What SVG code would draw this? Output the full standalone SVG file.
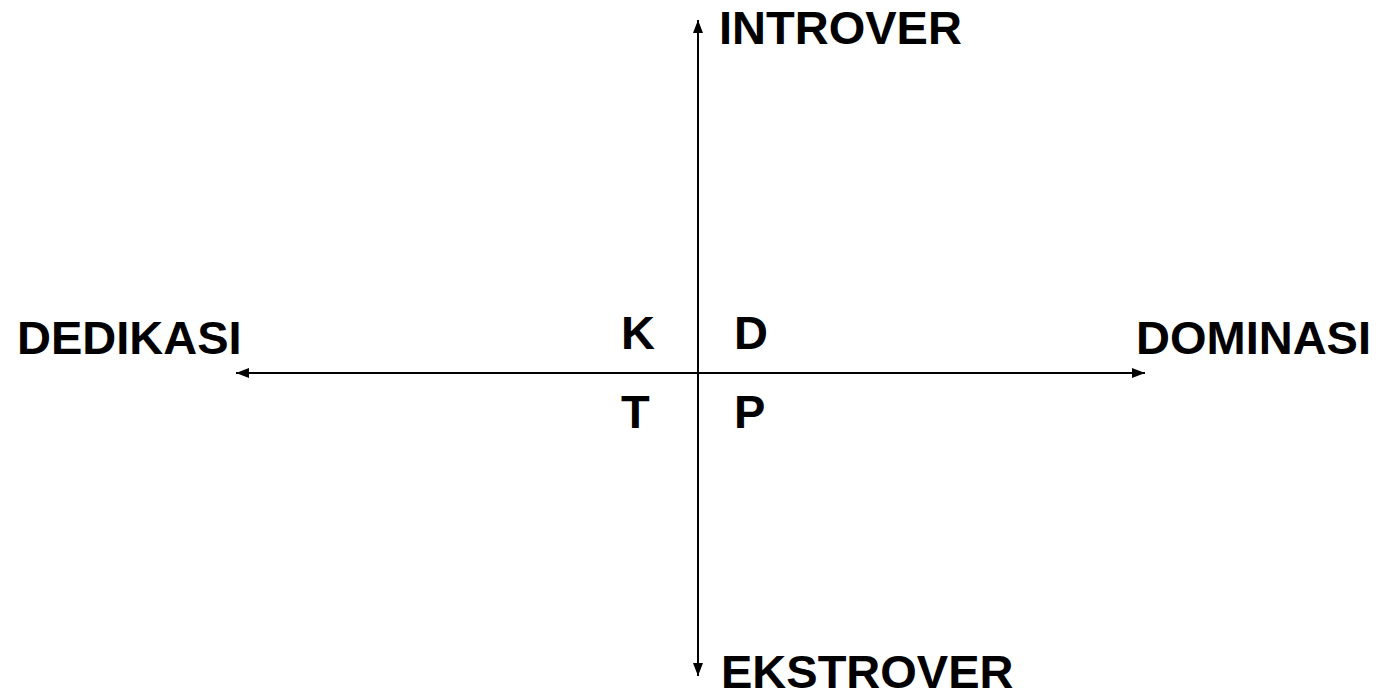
<svg xmlns="http://www.w3.org/2000/svg" width="1376" height="691" viewBox="0 0 1376 691">
<style>
.t{font-family:"Liberation Sans",Arial,sans-serif;font-weight:bold;font-size:47px;fill:#000}
.ax{stroke:#000;stroke-width:2;fill:none}
</style>
<defs>
<marker id="ah" viewBox="0 0 13 10" refX="13" refY="5" markerWidth="13" markerHeight="10" markerUnits="userSpaceOnUse" orient="auto">
<path d="M0,0 L13,5 L0,10 Z" fill="#000"/>
</marker>
</defs>
<rect width="1376" height="691" fill="#fff"/>
<g id="connectors">
<line class="ax" x1="698" y1="373" x2="698" y2="20" marker-end="url(#ah)"/>
<line class="ax" x1="698" y1="373" x2="698" y2="676" marker-end="url(#ah)"/>
<line class="ax" x1="698" y1="373" x2="236" y2="373" marker-end="url(#ah)"/>
<line class="ax" x1="698" y1="373" x2="1145" y2="373" marker-end="url(#ah)"/>
</g>
<g id="introver"><text class="t" x="719" y="44">INTROVER</text></g>
<g id="ekstrover"><text class="t" x="721" y="688">EKSTROVER</text></g>
<g id="dedikasi"><text class="t" x="17" y="354">DEDIKASI</text></g>
<g id="dominasi"><text class="t" x="1136" y="354">DOMINASI</text></g>
<g id="k"><text class="t" x="621" y="349">K</text></g>
<g id="d"><text class="t" x="734" y="349">D</text></g>
<g id="t"><text class="t" x="621" y="428">T</text></g>
<g id="p"><text class="t" x="734" y="428">P</text></g>
</svg>
